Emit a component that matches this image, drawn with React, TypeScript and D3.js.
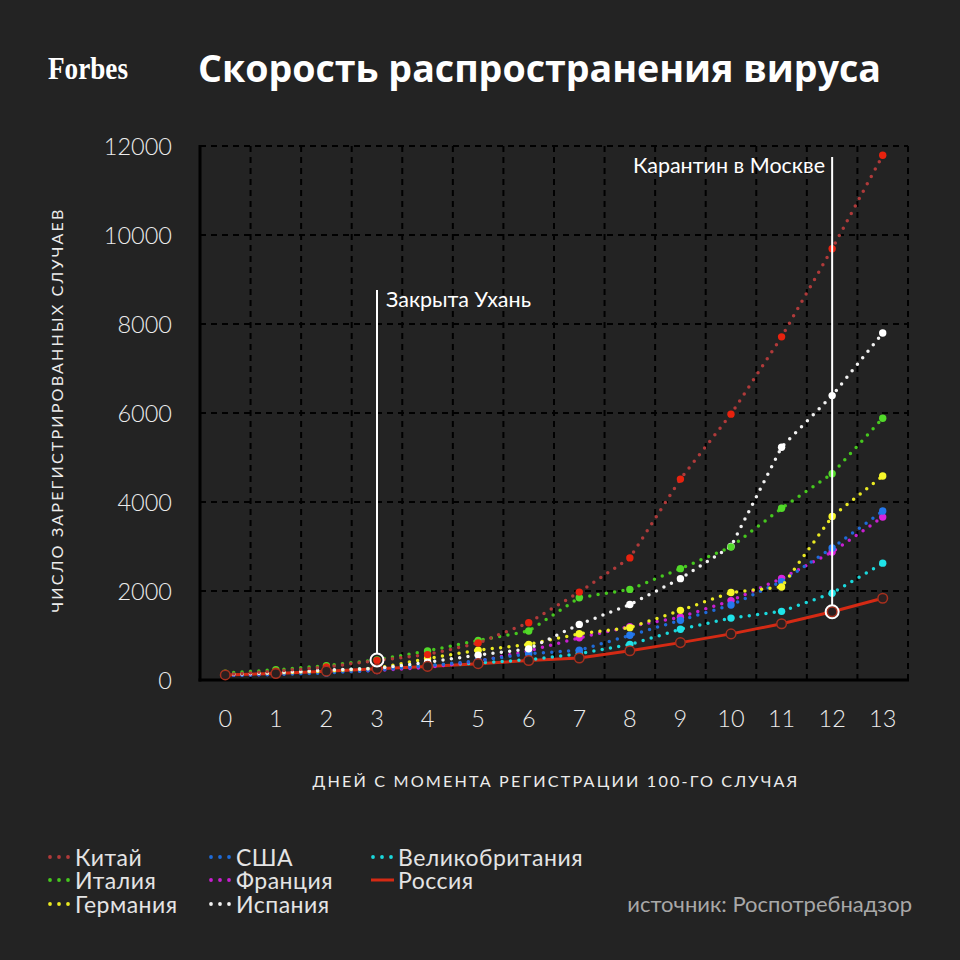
import React from "react";
import * as d3 from "d3";

const DAYS = [0, 1, 2, 3, 4, 5, 6, 7, 8, 9, 10, 11, 12, 13];
const Y_TICKS = [0, 2000, 4000, 6000, 8000, 10000, 12000];

const CHINA = [121, 198, 291, 440, 571, 830, 1287, 1975, 2744, 4515, 5974, 7711, 9692, 11791];
const ITALY = [155, 229, 322, 453, 655, 888, 1100, 1850, 2036, 2502, 2990, 3858, 4636, 5883];
const GERMANY = [130, 159, 196, 262, 482, 670, 799, 1040, 1176, 1565, 1966, 2090, 3675, 4585];
const USA = [100, 124, 158, 221, 319, 435, 590, 667, 1004, 1341, 1686, 2211, 2966, 3797];
const FRANCE = [100, 130, 191, 212, 285, 423, 653, 949, 1200, 1412, 1784, 2281, 2876, 3661];
const SPAIN = [120, 165, 222, 259, 400, 560, 700, 1250, 1695, 2277, 3000, 5232, 6391, 7798];
const UK = [116, 164, 207, 273, 321, 383, 456, 590, 798, 1140, 1391, 1543, 1950, 2626];
const RUSSIA = [114, 147, 199, 253, 306, 367, 438, 495, 658, 840, 1036, 1264, 1534, 1836];

const SERIES = [
  { name: "Великобритания", values: UK, small: "#1ad8dc", big: "#1fe3e8" },
  { name: "Франция", values: FRANCE, small: "#c81fd0", big: "#d824dc" },
  { name: "США", values: USA, small: "#1f6bd8", big: "#2478ec" },
  { name: "Германия", values: GERMANY, small: "#eaea22", big: "#f7f72a" },
  { name: "Испания", values: SPAIN, small: "#f2f2f2", big: "#ffffff" },
  { name: "Италия", values: ITALY, small: "#46c81e", big: "#52d92a" },
  { name: "Китай", values: CHINA, small: "#b03a3a", big: "#e8220e" },
];

const LEGEND = [
  { name: "Китай", color: "#b03a3a", col: 0, row: 0 },
  { name: "Италия", color: "#46c81e", col: 0, row: 1 },
  { name: "Германия", color: "#eaea22", col: 0, row: 2 },
  { name: "США", color: "#1f6bd8", col: 1, row: 0 },
  { name: "Франция", color: "#c81fd0", col: 1, row: 1 },
  { name: "Испания", color: "#f2f2f2", col: 1, row: 2 },
  { name: "Великобритания", color: "#1ad8dc", col: 2, row: 0 },
  { name: "Россия", color: "#d42a14", col: 2, row: 1, line: true },
];

const FONT = "Lato, 'Noto Sans', sans-serif";

export default function App() {
  const x = d3.scaleLinear().domain([-0.5, 13.5]).range([200, 908]);
  const y = d3.scaleLinear().domain([0, 12000]).range([680, 146]);
  const line = d3
    .line<number>()
    .x((_, i) => x(DAYS[i]))
    .y((v) => y(v));

  const gridX = DAYS.map((d) => d + 0.5);
  const gridY = Y_TICKS.filter((t) => t > 0);
  const colX = [50, 211, 373];
  const rowY = [857, 880, 904];

  return (
    <svg
      width={960}
      height={960}
      style={{ position: "absolute", left: 0, top: 0, display: "block" }}
    >
      <rect x={0} y={0} width={960} height={960} fill="#232323" />

      {/* Title */}
      <text x={48} y={79} fontFamily="'Liberation Serif', 'DejaVu Serif', serif" fontWeight={700} fontSize={31} fill="#fff" textLength={80} lengthAdjust="spacingAndGlyphs">
        Forbes
      </text>
      <text x={198} y={82} fontFamily="'Open Sans', sans-serif" fontWeight={700} fontSize={37} fill="#fff" textLength={683} lengthAdjust="spacingAndGlyphs">
        Скорость распространения вируса
      </text>

      {/* Grid */}
      {gridY.map((t) => (
        <line key={"gy" + t} x1={x(-0.5)} x2={x(13.5)} y1={y(t)} y2={y(t)} stroke="#000" strokeWidth={2} strokeDasharray="6 5" />
      ))}
      {gridX.map((d) => (
        <line key={"gx" + d} x1={x(d)} x2={x(d)} y1={y(12000)} y2={y(0)} stroke="#000" strokeWidth={2} strokeDasharray="6 5" />
      ))}
      <line x1={x(-0.5)} x2={x(-0.5)} y1={y(12000) - 1} y2={y(0) + 1.5} stroke="#000" strokeWidth={3} />
      <line x1={x(-0.5) - 1.5} x2={x(13.5) + 1} y1={y(0)} y2={y(0)} stroke="#000" strokeWidth={3} />

      {/* Y ticks */}
      {Y_TICKS.map((t) => (
        <text key={"yt" + t} x={172} y={y(t) + 8.5} textAnchor="end" fontFamily={FONT} fontWeight={300} fontSize={23.5} fill="#ececec">
          {t}
        </text>
      ))}
      {/* X ticks */}
      {DAYS.map((d) => (
        <text key={"xt" + d} x={x(d)} y={727} textAnchor="middle" fontFamily={FONT} fontWeight={300} fontSize={23.5} fill="#ececec">
          {d}
        </text>
      ))}
      <text x={556} y={787} textAnchor="middle" fontFamily={FONT} fontSize={15} fill="#ececec" letterSpacing={2} textLength={487} lengthAdjust="spacingAndGlyphs">
        ДНЕЙ С МОМЕНТА РЕГИСТРАЦИИ 100-ГО СЛУЧАЯ
      </text>
      <text transform="translate(63,410) rotate(-90)" textAnchor="middle" fontFamily={FONT} fontSize={15} fill="#ececec" letterSpacing={2} textLength={405} lengthAdjust="spacingAndGlyphs">
        ЧИСЛО ЗАРЕГИСТРИРОВАННЫХ СЛУЧАЕВ
      </text>

      {/* Russia line */}
      <path d={line(RUSSIA) || ""} fill="none" stroke="#d42a14" strokeWidth={3} />

      {/* Dotted series */}
      {SERIES.map((s) => (
        <g key={s.name}>
          <path d={line(s.values) || ""} fill="none" stroke={s.small} strokeWidth={3.5} strokeDasharray="0 8.4" strokeLinecap="round" />
          {s.values.map((v, i) => (
            <circle key={i} cx={x(DAYS[i])} cy={y(v)} r={3.7} fill={s.big} />
          ))}
        </g>
      ))}

      {/* Russia markers */}
      {RUSSIA.map((v, i) => (
        <circle key={"ru" + i} cx={x(DAYS[i])} cy={y(v)} r={4.8} fill="#2a2020" stroke="#a8301e" strokeWidth={1.5} />
      ))}

      {/* Annotations */}
      <line x1={x(3)} x2={x(3)} y1={290} y2={y(450) - 6.5} stroke="#fff" strokeWidth={2} />
      <circle cx={x(3)} cy={y(450)} r={6.5} fill="none" stroke="#fff" strokeWidth={2} />
      <text x={386} y={307} fontFamily={FONT} fontSize={21.5} fill="#fff">
        Закрыта Ухань
      </text>
      <line x1={x(12)} x2={x(12)} y1={157} y2={y(RUSSIA[12]) - 6.5} stroke="#fff" strokeWidth={2} />
      <circle cx={x(12)} cy={y(RUSSIA[12])} r={6.5} fill="none" stroke="#fff" strokeWidth={2} />
      <text x={825} y={173} textAnchor="end" fontFamily={FONT} fontSize={21.5} fill="#fff">
        Карантин в Москве
      </text>

      {/* Legend */}
      {LEGEND.map((l) => {
        const lx = colX[l.col];
        const ly = rowY[l.row];
        return (
          <g key={l.name}>
            {l.line ? (
              <line x1={lx - 2} x2={lx + 21} y1={ly} y2={ly} stroke={l.color} strokeWidth={3} />
            ) : (
              [0, 9, 18].map((o) => <circle key={o} cx={lx + o} cy={ly} r={1.9} fill={l.color} />)
            )}
            <text x={lx + 25} y={ly + 8.5} fontFamily={FONT} fontSize={23} letterSpacing={0.5} fill="#e4e4e4">
              {l.name}
            </text>
          </g>
        );
      })}

      <text x={912} y={912} textAnchor="end" fontFamily={FONT} fontSize={22} fill="#a8a8a8">
        источник: Роспотребнадзор
      </text>
    </svg>
  );
}
